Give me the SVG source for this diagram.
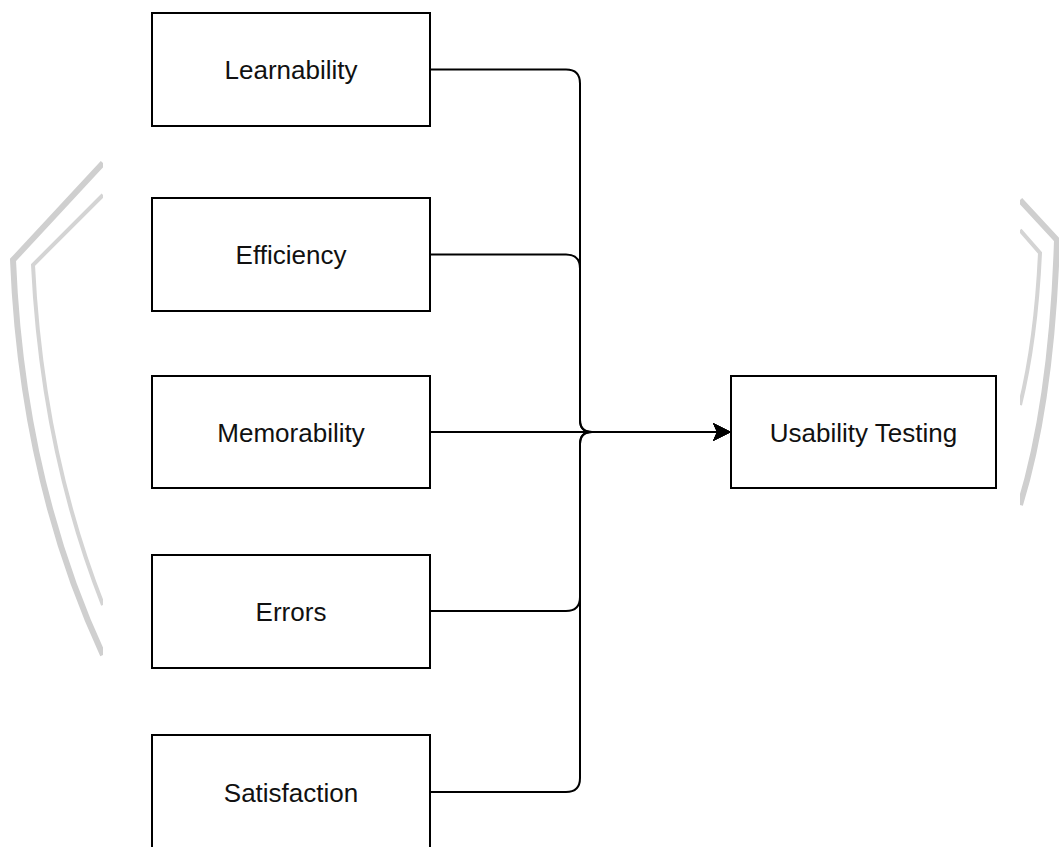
<svg xmlns="http://www.w3.org/2000/svg" width="1059" height="847" viewBox="0 0 1059 847">
<style>
.box{fill:#ffffff;stroke:#000000;stroke-width:2}
.lbl{font-family:"Liberation Sans",Arial,sans-serif;font-size:26px;fill:#111111;text-anchor:middle}
.wm{fill:none;stroke:#cfcfcf;stroke-width:6}
.wm2{fill:none;stroke:#d4d4d4;stroke-width:4}
.edge{fill:none;stroke:#000000;stroke-width:2}
</style>
<defs>
<marker id="arr" markerUnits="userSpaceOnUse" markerWidth="20" markerHeight="20" refX="18" refY="9" orient="auto">
<path d="M18,9 L0,0 L4,9 L0,18 Z" fill="#000000"/>
</marker>
</defs>
<rect x="0" y="0" width="1059" height="847" fill="#ffffff"/>
<g id="watermark">
<path class="wm" d="M103,163 L13,260 Q22,480 103,655"/>
<path class="wm2" d="M103,195 L33,265 Q42,450 103,605"/>
<path class="wm" d="M1020,200 L1057,240 Q1052,400 1020,505"/>
<path class="wm2" d="M1020,230 L1040,253 Q1036,340 1020,405"/>
</g>
<rect x="103" y="0" width="917" height="847" fill="#ffffff"/>
<g id="connectors">
<path class="edge" d="M430,69.5 H566 Q580,69.5 580,83.5 V420 Q580,432 592,432 H731" marker-end="url(#arr)"/>
<path class="edge" d="M430,254.5 H566 Q580,254.5 580,268.5 V420 Q580,432 592,432 H731" marker-end="url(#arr)"/>
<path class="edge" d="M430,432 H731" marker-end="url(#arr)"/>
<path class="edge" d="M430,611 H566 Q580,611 580,597 V444 Q580,432 592,432 H731" marker-end="url(#arr)"/>
<path class="edge" d="M430,792 H566 Q580,792 580,778 V444 Q580,432 592,432 H731" marker-end="url(#arr)"/>
</g>
<g id="learnability">
<rect class="box" x="152" y="13" width="278" height="113"/>
<text class="lbl" x="291" y="79">Learnability</text>
</g>
<g id="efficiency">
<rect class="box" x="152" y="198" width="278" height="113"/>
<text class="lbl" x="291" y="264">Efficiency</text>
</g>
<g id="memorability">
<rect class="box" x="152" y="376" width="278" height="112"/>
<text class="lbl" x="291" y="441.5">Memorability</text>
</g>
<g id="errors">
<rect class="box" x="152" y="555" width="278" height="113"/>
<text class="lbl" x="291" y="620.5">Errors</text>
</g>
<g id="satisfaction">
<rect class="box" x="152" y="735" width="278" height="113"/>
<text class="lbl" x="291" y="801.5">Satisfaction</text>
</g>
<g id="usability-testing">
<rect class="box" x="731" y="376" width="265" height="112"/>
<text class="lbl" x="863.5" y="441.5">Usability Testing</text>
</g>
</svg>
